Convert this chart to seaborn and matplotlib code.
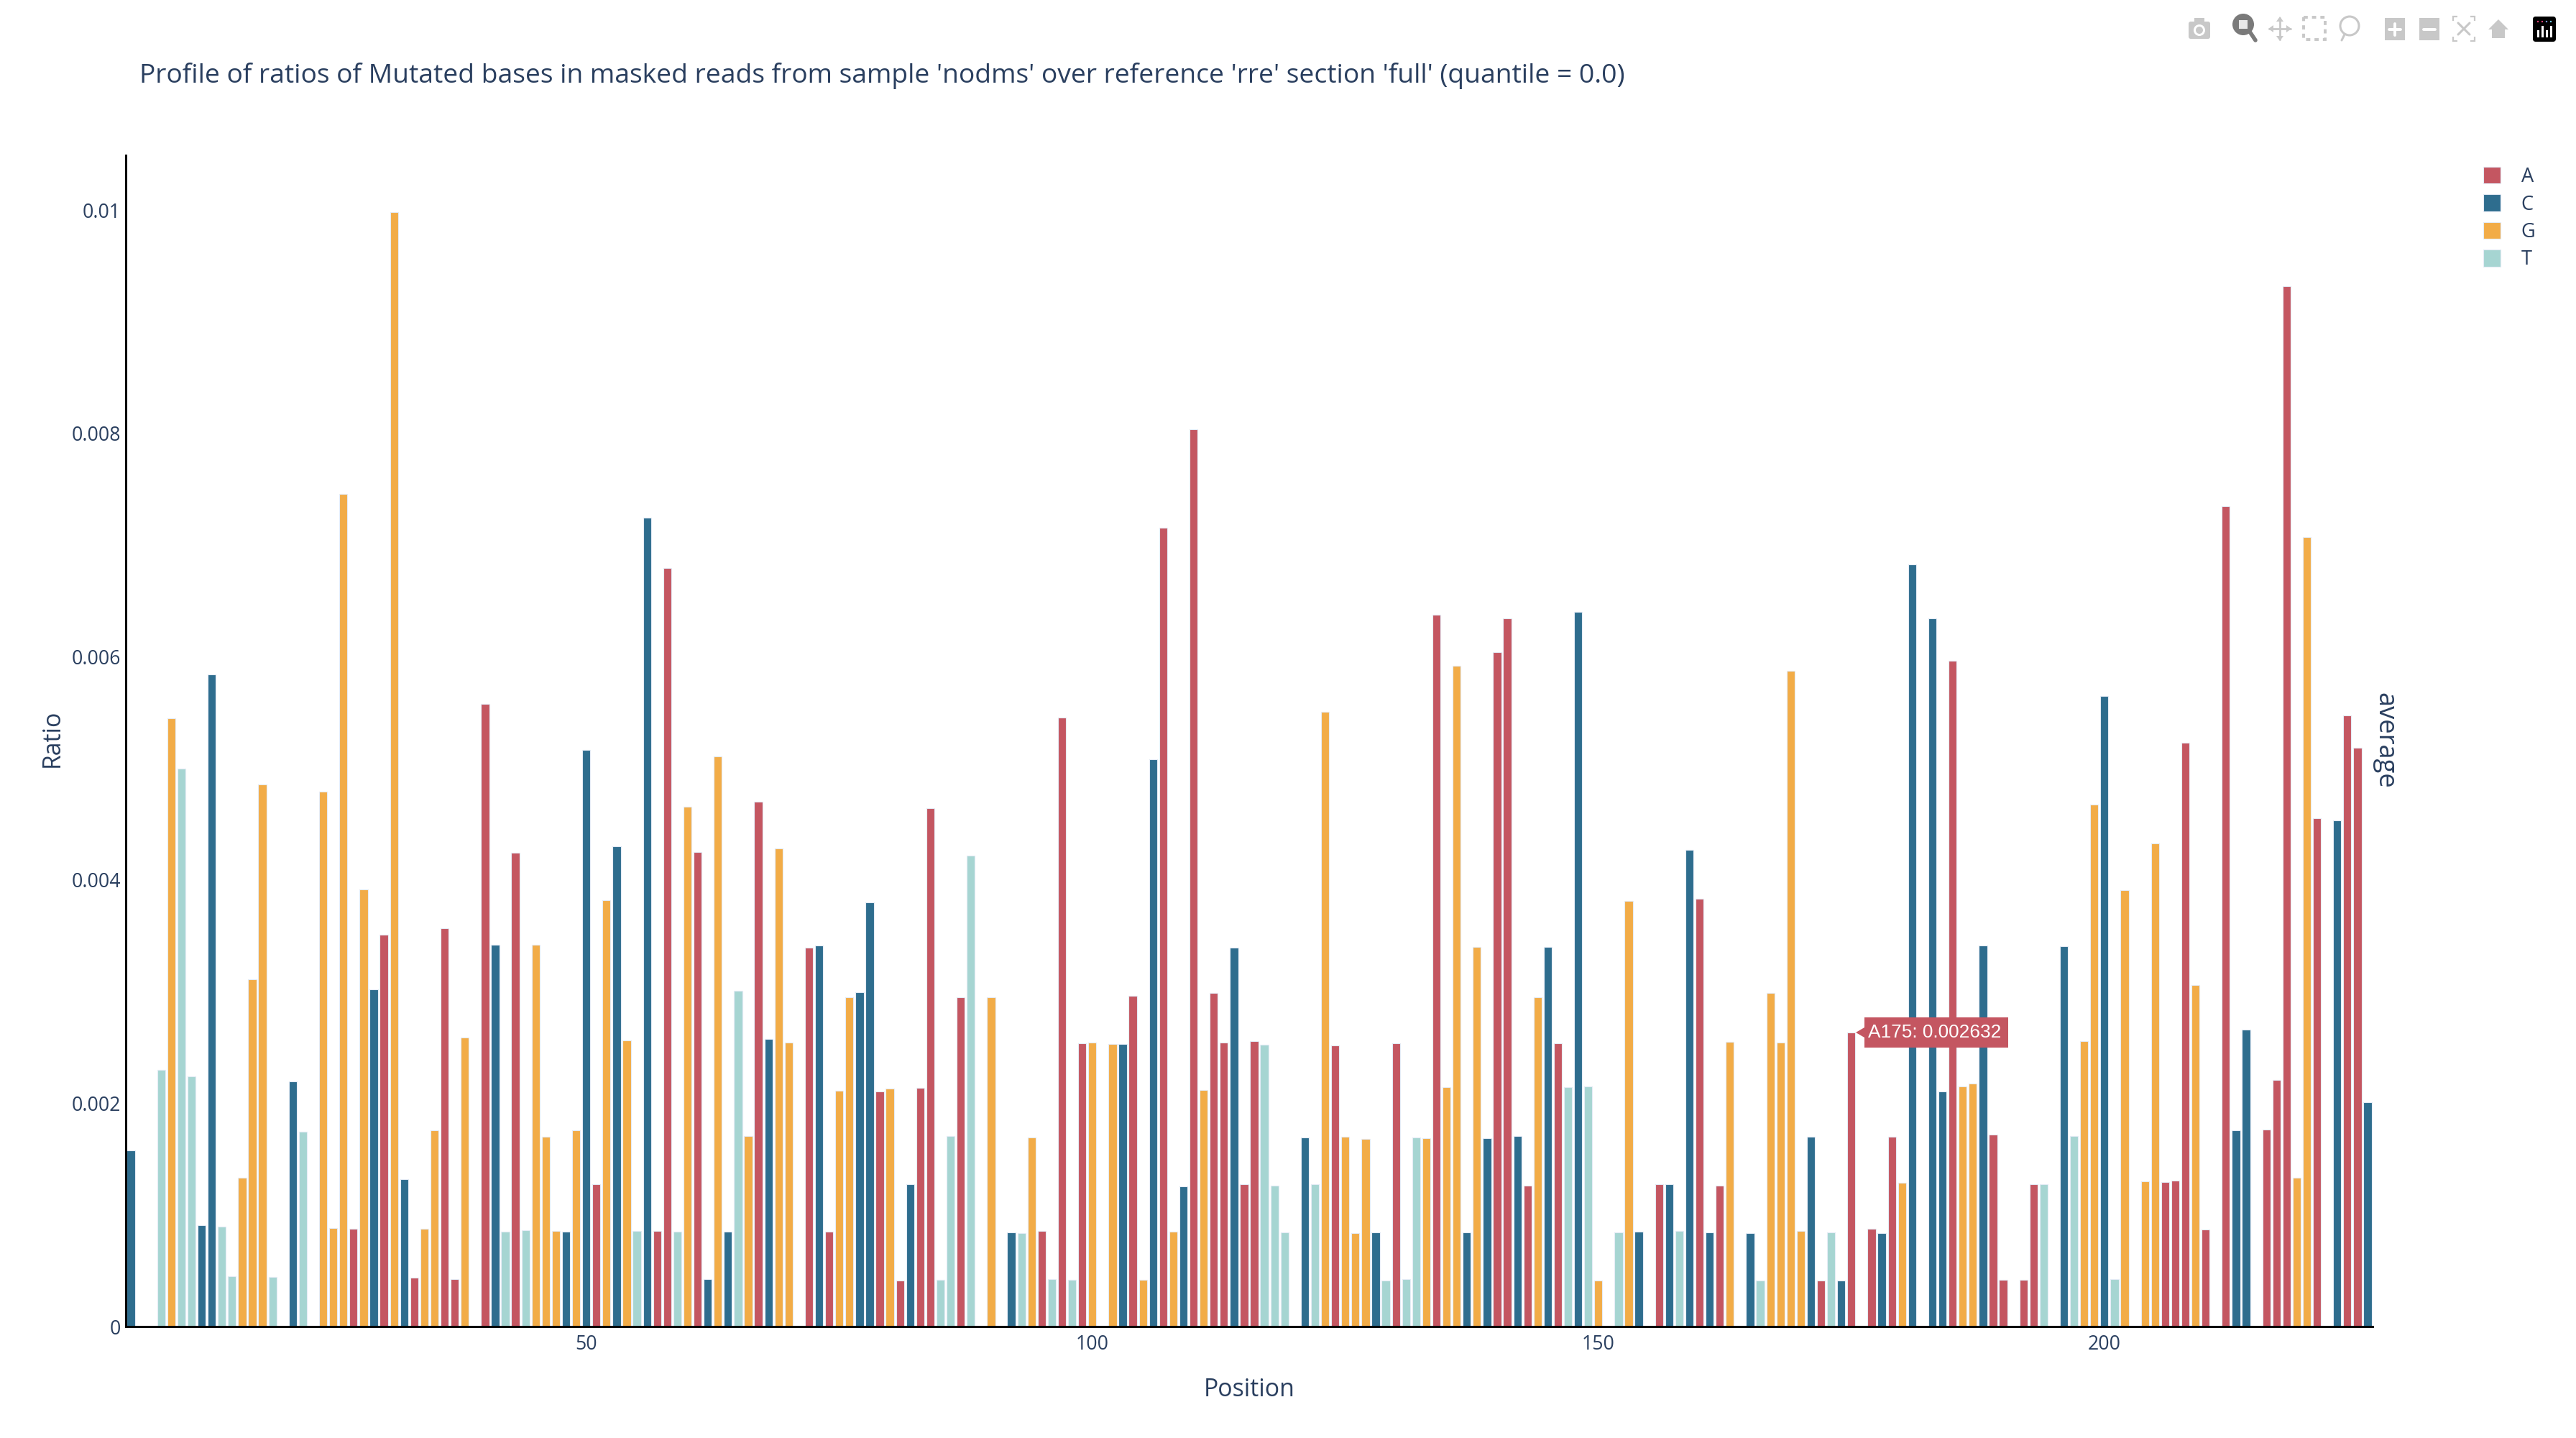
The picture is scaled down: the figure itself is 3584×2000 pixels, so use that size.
import matplotlib
matplotlib.use("Agg")
import matplotlib.pyplot as plt
import pandas as pd
import seaborn as sns
from matplotlib.patches import Polygon, Rectangle, Circle, FancyBboxPatch
from matplotlib.lines import Line2D
from matplotlib.transforms import Affine2D

# ---- data (ratios in thousandths) ----
A_pos = [27,30,33,36,37,40,43,51,57,58,61,67,72,74,79,81,83,84,87,95,97,99,104,107,110,112,113,115,116,
         124,130,134,140,141,143,146,156,160,162,172,175,177,179,185,189,190,192,193,206,207,208,210,212,
         216,217,218,221,224,225]
A_val = [0.878,3.51,0.435,3.566,0.428,5.577,4.243,1.278,0.857,6.793,4.25,4.70,3.393,0.85,2.108,0.415,2.135,
         4.644,2.951,0.857,5.453,2.536,2.965,7.153,8.037,2.985,2.543,1.278,2.557,
         2.516,2.536,6.372,6.04,6.344,1.265,2.536,1.272,3.829,1.265,0.415,2.632,0.878,1.70,5.964,1.72,0.42,
         0.42,1.278,1.292,1.306,5.231,0.871,7.346,1.762,2.211,9.316,4.554,5.473,5.183]
C_pos = [5,12,13,21,29,32,41,48,50,53,56,62,64,68,73,77,78,82,92,103,106,109,114,121,128,137,139,142,145,148,
         154,157,159,161,165,171,174,178,181,183,184,188,196,200,213,214,223,226]
C_val = [1.576,0.905,5.84,2.198,3.02,1.32,3.42,0.85,5.162,4.30,7.243,0.428,0.85,2.578,3.414,2.992,3.80,1.272,
         0.843,2.53,5.08,1.258,3.393,1.693,0.843,0.843,1.686,1.707,3.40,6.40,
         0.85,1.272,4.271,0.843,0.836,1.70,0.415,0.836,6.828,6.344,2.108,3.414,3.407,5.646,1.755,2.66,4.533,2.011]
G_pos = [9,16,17,18,24,25,26,28,31,34,35,38,45,46,47,49,52,54,60,63,66,69,70,75,76,80,90,94,100,102,105,108,111,
         123,125,126,127,133,135,136,138,144,150,153,163,167,168,169,170,180,186,187,198,199,202,204,205,209,219,220]
G_val = [5.445,1.334,3.11,4.858,4.789,0.885,7.457,3.918,9.98,0.878,1.755,2.59,3.42,1.70,0.857,1.755,3.82,2.564,
         4.658,5.107,1.707,4.285,2.543,2.115,2.951,2.129,2.951,1.693,2.543,2.53,0.42,0.85,2.12,
         5.508,1.70,0.836,1.679,1.686,2.142,5.916,3.40,2.951,0.415,3.815,2.55,2.985,2.543,5.874,0.857,1.285,
         2.149,2.177,2.557,4.672,3.912,1.30,4.326,3.061,1.334,7.07]
T_pos = [8,10,11,14,15,19,22,42,44,55,59,65,85,86,88,93,96,98,117,118,119,122,129,131,132,147,149,152,158,166,173,194,197,201]
T_val = [2.30,5.00,2.24,0.898,0.449,0.442,1.748,0.85,0.864,0.857,0.85,3.006,0.42,1.707,4.216,0.836,0.428,0.42,
         2.522,1.265,0.843,1.272,0.415,0.428,1.693,2.142,2.149,0.843,0.857,0.415,0.843,1.278,1.707,0.428]

bases = ["A", "C", "G", "T"]
colors = {"A": "#c45661", "C": "#2e6d8e", "G": "#f2ac47", "T": "#a6d5d2"}
y_ticks = [0, 0.002, 0.004, 0.006, 0.008, 0.01]
y_tick_labels = ["0", "0.002", "0.004", "0.006", "0.008", "0.01"]
x_ticks = [50, 100, 150, 200]
title = "Profile of ratios of Mutated bases in masked reads from sample 'nodms' over reference 'rre' section 'full' (quantile = 0.0)"
hover_text = "A175: 0.002632"

frames = []
for b, p, v in zip(bases, [A_pos, C_pos, G_pos, T_pos], [A_val, C_val, G_val, T_val]):
    frames.append(pd.DataFrame({"Position": p, "Ratio": [x / 1000 for x in v], "Base": b}))
df = pd.concat(frames, ignore_index=True)

# ---- style ----
sns.set_theme(style="white")
INK = "#2a3f5f"
plt.rcParams["font.family"] = ["Open Sans", "DejaVu Sans"]

W, H = 3584, 2000
fig = plt.figure(figsize=(W / 200, H / 200), dpi=200, facecolor="white")
L, R, T, B = 175, 3301, 216, 1845
ax = fig.add_axes([L / W, 1 - B / H, (R - L) / W, (B - T) / H])

sns.barplot(data=df, x="Position", y="Ratio", hue="Base", hue_order=bases, palette=colors,
            native_scale=True, dodge=False, width=0.8, saturation=1, errorbar=None,
            edgecolor="#e5ecf6", linewidth=0.4, ax=ax)

ax.set_xlim(4.5, 226.5)
ax.set_ylim(0, 0.01049)
ax.set_xticks(x_ticks)
ax.set_xticklabels([str(v) for v in x_ticks])
ax.set_yticks(y_ticks)
ax.set_yticklabels(y_tick_labels)
ax.tick_params(axis="both", length=0, labelsize=9.6, labelcolor=INK)
ax.tick_params(axis="x", pad=4)
ax.tick_params(axis="y", pad=2.5)
ax.grid(False)
sns.despine(ax=ax)
for s in ("left", "bottom"):
    ax.spines[s].set_color("black")
    ax.spines[s].set_linewidth(1.1)

ax.set_xlabel("Position", fontsize=12.2, color=INK, va="center")
ax.set_ylabel("Ratio", fontsize=12.2, color=INK, va="center")
ax.xaxis.set_label_coords(0.5, -(1933 - B) / (B - T))
ax.yaxis.set_label_coords((73 - L) / (R - L), 0.502)
ax.set_title(title, loc="left", x=(194 - L) / (R - L), y=(B - 106) / (B - T), fontsize=13.4, color=INK, va="center", pad=0)

sns.move_legend(ax, "upper left", bbox_to_anchor=(3455 / W, 1 - 232 / H), bbox_transform=fig.transFigure,
                frameon=False, title=None, fontsize=9.8, handlelength=0.88, handleheight=0.95,
                handletextpad=1.05, labelspacing=0.38, borderpad=0, borderaxespad=0)
for t in ax.get_legend().get_texts():
    t.set_color(INK)

# pixel coordinates, origin top-left; modebar coordinates are shifted up by 4 px
px = Affine2D().scale(1, -1).translate(0, H)
px_bar = Affine2D().translate(0, -4) + px

fig.text(3317 / W, 1 - 1030 / H, "average", rotation=270, ha="center", va="center", fontsize=13.1, color=INK)

# hover label
fig.add_artist(Polygon([(2582, 1436), (2594, 1429), (2594, 1415), (2794, 1415), (2794, 1457), (2594, 1457), (2594, 1443)],
                       closed=True, facecolor=colors["A"], edgecolor="none", transform=px))
fig.text(2599 / W, 1 - 1436 / H, hover_text, ha="left", va="center", fontsize=9.45, color="white",
         family=["Liberation Sans", "DejaVu Sans"], zorder=5)

# modebar
G1 = "#c8c8c8"
G2 = "#7a7a7a"
def add(a):
    a.set_transform(px_bar)
    fig.add_artist(a)
add(FancyBboxPatch((3045, 34), 30, 24, boxstyle="round,pad=0,rounding_size=3", fc=G1, ec="none"))
add(Rectangle((3053, 29), 14, 6, fc=G1, ec="none"))
add(Circle((3060, 46), 8, fc="white", ec="none"))
add(Circle((3060, 46), 5, fc=G1, ec="none"))
add(Circle((3121, 38), 15, fc=G2, ec="none"))
add(Rectangle((3115, 32), 12, 12, fc="#e8e8e8", ec="none"))
add(Line2D([3130, 3138], [48, 60], color=G2, lw=2))
add(Line2D([3157, 3187], [44, 44], color=G1, lw=1.0))
add(Line2D([3172, 3172], [29, 59], color=G1, lw=1.0))
add(Polygon([(3156, 44), (3163, 39), (3163, 49)], fc=G1, ec="none"))
add(Polygon([(3188, 44), (3181, 39), (3181, 49)], fc=G1, ec="none"))
add(Polygon([(3172, 27), (3167, 34), (3177, 34)], fc=G1, ec="none"))
add(Polygon([(3172, 61), (3167, 54), (3177, 54)], fc=G1, ec="none"))
add(Rectangle((3205, 28), 30, 31, fc="none", ec=G1, lw=1.4, ls=(0, (1.5, 1.5))))
add(Circle((3269, 40), 13, fc="none", ec=G1, lw=1.1))
add(Line2D([3262, 3258], [52, 60], color=G1, lw=1.1))
add(Rectangle((3318, 29), 28, 31, fc=G1, ec="none"))
add(Line2D([3324, 3340], [45, 45], color="white", lw=1.4))
add(Line2D([3332, 3332], [37, 53], color="white", lw=1.4))
add(Rectangle((3366, 29), 28, 31, fc=G1, ec="none"))
add(Line2D([3372, 3388], [45, 45], color="white", lw=1.4))
add(Rectangle((3413, 27), 30, 34, fc="none", ec=G1, lw=0.8))
add(Rectangle((3419, 22), 18, 44, fc="white", ec="none"))
add(Rectangle((3408, 33), 40, 22, fc="white", ec="none"))
add(Line2D([3420, 3436], [36, 52], color=G1, lw=1.1))
add(Line2D([3436, 3420], [36, 52], color=G1, lw=1.1))
add(Polygon([(3462, 45), (3476, 31), (3490, 45), (3485, 45), (3485, 57), (3467, 57), (3467, 45)], fc=G1, ec="none"))
add(FancyBboxPatch((3524, 27), 32, 35, boxstyle="round,pad=0,rounding_size=4", fc="black", ec="none"))
for i, c in zip(range(4), ["#e6447a", "#e6447a", "#7a9ae6", "#7ad8f0"]):
    add(Circle((3531 + i * 6, 34), 1.2, fc=c, ec="none"))
for i, top in zip(range(4), [46, 40, 46, 40]):
    add(Rectangle((3530 + i * 6, top), 2.5, 56 - top, fc="white", ec="none"))

fig.savefig("out.png", dpi=200, facecolor="white")
